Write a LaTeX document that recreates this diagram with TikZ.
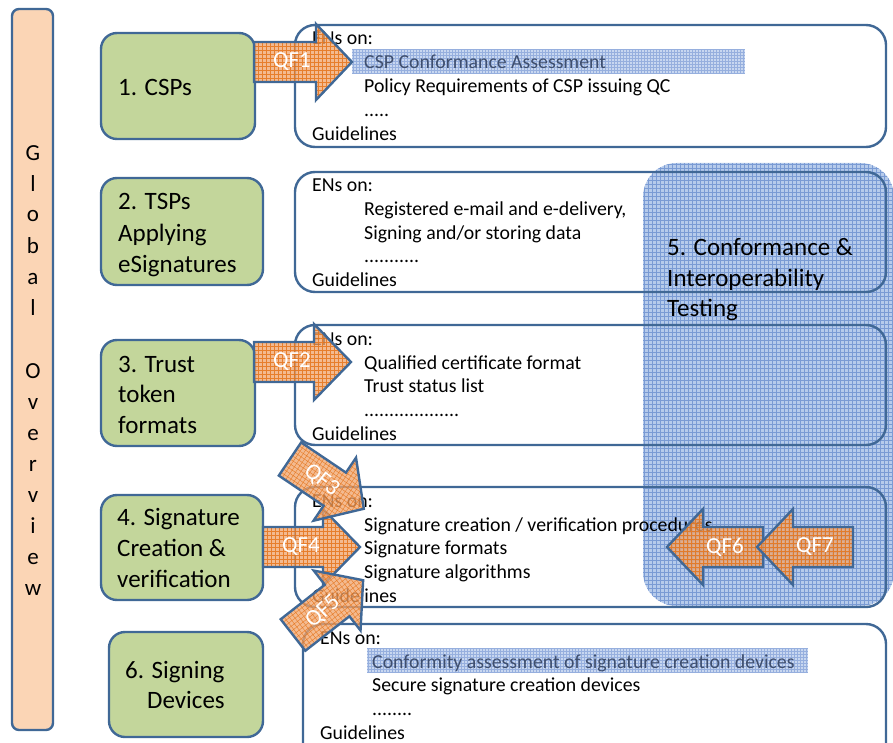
\documentclass[tikz,border=0pt]{standalone}
\usepackage{fontspec}
\setmainfont{Carlito}
\definecolor{bordercol}{RGB}{64,104,150}
\definecolor{greenfill}{RGB}{195,214,155}
\definecolor{barfill}{RGB}{251,213,181}
\definecolor{qfbase}{RGB}{240,165,110}
\definecolor{qfline}{RGB}{228,112,20}
\definecolor{panelbase}{RGB}{182,203,235}
\definecolor{panelline}{RGB}{122,155,212}
\definecolor{hlbase}{RGB}{200,215,240}
\definecolor{hlline}{RGB}{150,175,222}
\definecolor{hltext}{RGB}{62,78,110}
\newcommand\QFarrow[8]{%
 \begin{scope}[shift={(#2,#3)},rotate=#4]
  \fill[qfbase, fill opacity=0.76] (0,-20) -- (#5,-20) -- (#5,-38) -- ({#5+#6},0) -- (#5,38) -- (#5,20) -- (0,20) -- cycle;
  \begin{scope}
   \clip (0,-20) -- (#5,-20) -- (#5,-38) -- ({#5+#6},0) -- (#5,38) -- (#5,20) -- (0,20) -- cycle;
   \draw[qfline, draw opacity=0.8, line width=0.45pt, step=4pt] (-4,-44) grid ({#5+#6+4},44);
  \end{scope}
  \draw[bdr, line join=miter] (0,-20) -- (#5,-20) -- (#5,-38) -- ({#5+#6},0) -- (#5,38) -- (#5,20) -- (0,20) -- cycle;
  \node[qflabel, rotate=#8] (#1) at (38,0) {#7};
 \end{scope}}
\begin{document}
\begin{tikzpicture}[x=1pt,y=-1pt,
  bdr/.style={draw=bordercol, line width=2.4pt},
  gbox/.style={bdr, fill=greenfill, rounded corners=16pt, inner sep=0pt},
  wbox/.style={bdr, rounded corners=20pt, inner sep=0pt},
  ttxt/.style={anchor=base west, inner sep=0pt, font=\fontsize{19.8}{23}\selectfont},
  htxt/.style={ttxt, text=hltext},
  gtxt/.style={anchor=base west, inner sep=0pt, font=\fontsize{25}{30}\selectfont},
  ltr/.style={anchor=base, inner sep=0pt, font=\fontsize{23}{28}\selectfont},
  qflabel/.style={text=white, inner sep=0pt, font=\fontsize{23}{27}\selectfont},
  hlbox/.style={fill=hlbase, draw=none, inner sep=0pt,
    path picture={\draw[hlline, line width=0.5pt, step=3pt] (path picture bounding box.south west) grid (path picture bounding box.north east);}},
]
\useasboundingbox (0,0) rectangle (893,743);
\clip (0,0) rectangle (893,743);
\fill[white] (0,0) rectangle (893,743);

% global overview bar
\node[bdr, fill=barfill, rounded corners=7pt, minimum width=41pt, minimum height=721pt, inner sep=0pt] (bar) at (32.5,369.5) {};
\foreach \c/\yy [count=\i] in {G/161,l/192,o/222,b/253,a/284,l/315,O/378,v/409,e/440,r/471,v/502,i/533,e/564,w/595}
  \node[ltr] (L\i) at (33,\yy) {\c};

% blue panel (drawn under the box outlines)
\node[fill=panelbase, draw=none, rounded corners=34pt, minimum width=251pt, minimum height=443pt, inner sep=0pt,
  path picture={\draw[panelline, line width=0.5pt, step=4pt] (path picture bounding box.south west) grid (path picture bounding box.north east);}]
  (panel) at (768.5,384.5) {};

% green boxes
\node[gbox, minimum width=154pt, minimum height=106pt] (g1) at (178,86) {};
\node[gbox, minimum width=162pt, minimum height=107pt] (g2) at (182,231.5) {};
\node[gbox, minimum width=154pt, minimum height=106pt] (g3) at (178,393) {};
\node[gbox, minimum width=162pt, minimum height=105pt] (g4) at (182,547.5) {};
\node[gbox, minimum width=154pt, minimum height=105pt] (g6) at (186,684.5) {};

\node[gtxt] (g1a) at (118,96) {1. CSPs};
\node[gtxt] (g2a) at (118,210) {2. TSPs};
\node[gtxt] (g2b) at (118,241) {Applying};
\node[gtxt] (g2c) at (118,272) {eSignatures};
\node[gtxt] (g3a) at (118,372) {3. Trust};
\node[gtxt] (g3b) at (118,402) {token};
\node[gtxt] (g3c) at (118,433) {formats};
\node[gtxt] (g4a) at (117,525) {4. Signature};
\node[gtxt] (g4b) at (117,556) {Creation \&};
\node[gtxt] (g4c) at (117,587) {verification};
\node[gtxt] (g6a) at (125,678) {6. Signing};
\node[gtxt] (g6b) at (147,708) {Devices};

% white boxes (outlines only)
\node[wbox, minimum width=591pt, minimum height=122pt] (w1) at (590.5,86) {};
\node[wbox, minimum width=591pt, minimum height=120pt] (w2) at (590.5,232) {};
\node[wbox, minimum width=591pt, minimum height=120pt] (w3) at (590.5,385) {};
\node[wbox, minimum width=591pt, minimum height=120pt] (w4) at (590.5,547) {};
\node[wbox, minimum width=583pt, minimum height=140pt] (w5) at (594.5,694) {};

% highlights
\node[hlbox, minimum width=393pt, minimum height=25pt] (hl1) at (548.5,61.5) {};
\node[hlbox, minimum width=441pt, minimum height=25pt] (hl5) at (587.5,660.5) {};

% box texts
\node[ttxt] (t1a) at (312,45) {ENs on:};
\node[htxt] (t1b) at (364,69) {CSP Conformance Assessment};
\node[ttxt] (t1c) at (364,93) {Policy Requirements of CSP issuing QC};
\node[ttxt] (t1d) at (364,117) {.....};
\node[ttxt] (t1e) at (312,141) {Guidelines};

\node[ttxt] (t2a) at (312,192) {ENs on:};
\node[ttxt] (t2b) at (364,215.6) {Registered e-mail and e-delivery,};
\node[ttxt] (t2c) at (364,239.2) {Signing and/or storing data};
\node[ttxt] (t2d) at (364,262.8) {...........};
\node[ttxt] (t2e) at (312,286.4) {Guidelines};

\node[ttxt] (t3a) at (312,345) {ENs on:};
\node[ttxt] (t3b) at (364,369) {Qualified certificate format};
\node[ttxt] (t3c) at (364,392.5) {Trust status list};
\node[ttxt] (t3d) at (364,416) {...................};
\node[ttxt] (t3e) at (312,440) {Guidelines};

\node[ttxt] (t4a) at (312,507) {ENs on:};
\node[ttxt] (t4b) at (364,531) {Signature creation / verification procedures};
\node[ttxt] (t4c) at (364,554.5) {Signature formats};
\node[ttxt] (t4d) at (364,578) {Signature algorithms};
\node[ttxt] (t4e) at (312,602) {Guidelines};

\node[ttxt] (t5a) at (320,644) {ENs on:};
\node[htxt] (t5b) at (372,668) {Conformity assessment of signature creation devices};
\node[ttxt] (t5c) at (372,691.5) {Secure signature creation devices};
\node[ttxt] (t5d) at (372,715) {........};
\node[ttxt] (t5e) at (320,739) {Guidelines};

% panel text
\node[gtxt] (p1) at (667,255) {5. Conformance \&};
\node[gtxt] (p2) at (667,286) {Interoperability};
\node[gtxt] (p3) at (667,316) {Testing};

% QF arrows
\QFarrow{qf1}{254}{62}{0}{62}{36}{QF1}{0}
\QFarrow{qf2}{254}{362}{0}{60}{37}{QF2}{0}
\QFarrow{qf4}{263}{547}{0}{60}{37}{QF4}{0}
\QFarrow{qf3}{290}{459}{-34}{54}{35}{QF3}{-38}
\QFarrow{qf5}{293}{635}{38}{56}{33}{QF5}{43}
\QFarrow{qf6}{763}{547}{180}{60}{36}{QF6}{0}
\QFarrow{qf7}{853}{547}{180}{60}{36}{QF7}{0}
\end{tikzpicture}
\end{document}
